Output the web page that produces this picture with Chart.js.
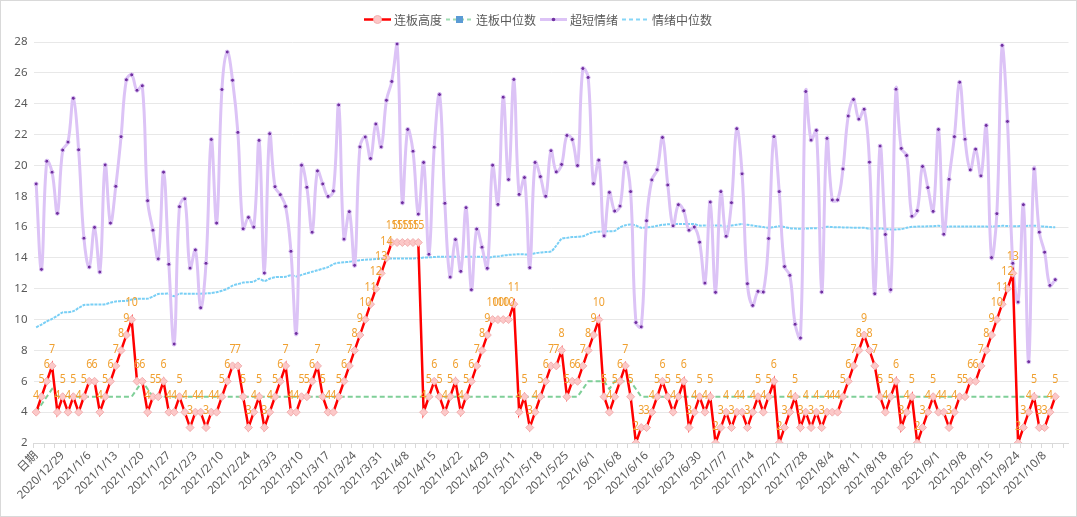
<!DOCTYPE html>
<html>
<head>
<meta charset="utf-8">
<script src="https://cdn.jsdelivr.net/npm/chart.js@4"></script>
<style>
html,body{margin:0;padding:0;background:#fff;}
#wrap{width:1077px;height:517px;position:relative;}
</style>
</head>
<body>
<div id="wrap"><canvas id="c" width="1077" height="517"></canvas></div>
<script>
const categories = ['日期','2020/12/23','2020/12/24','2020/12/25','2020/12/28','2020/12/29','2020/12/30','2020/12/31','2021/1/4','2021/1/5',
'2021/1/6','2021/1/7','2021/1/8','2021/1/11','2021/1/12','2021/1/13','2021/1/14','2021/1/15','2021/1/18','2021/1/19',
'2021/1/20','2021/1/21','2021/1/22','2021/1/25','2021/1/26','2021/1/27','2021/1/28','2021/1/29','2021/2/1','2021/2/2',
'2021/2/3','2021/2/4','2021/2/5','2021/2/8','2021/2/9','2021/2/10','2021/2/18','2021/2/19','2021/2/22','2021/2/23',
'2021/2/24','2021/2/25','2021/2/26','2021/3/1','2021/3/2','2021/3/3','2021/3/4','2021/3/5','2021/3/8','2021/3/9',
'2021/3/10','2021/3/11','2021/3/12','2021/3/15','2021/3/16','2021/3/17','2021/3/18','2021/3/19','2021/3/22','2021/3/23',
'2021/3/24','2021/3/25','2021/3/26','2021/3/29','2021/3/30','2021/3/31','2021/4/1','2021/4/2','2021/4/6','2021/4/7',
'2021/4/8','2021/4/9','2021/4/12','2021/4/13','2021/4/14','2021/4/15','2021/4/16','2021/4/19','2021/4/20','2021/4/21',
'2021/4/22','2021/4/23','2021/4/26','2021/4/27','2021/4/28','2021/4/29','2021/4/30','2021/5/6','2021/5/7','2021/5/10',
'2021/5/11','2021/5/12','2021/5/13','2021/5/14','2021/5/17','2021/5/18','2021/5/19','2021/5/20','2021/5/21','2021/5/24',
'2021/5/25','2021/5/26','2021/5/27','2021/5/28','2021/5/31','2021/6/1','2021/6/2','2021/6/3','2021/6/4','2021/6/7',
'2021/6/8','2021/6/9','2021/6/10','2021/6/11','2021/6/15','2021/6/16','2021/6/17','2021/6/18','2021/6/21','2021/6/22',
'2021/6/23','2021/6/24','2021/6/25','2021/6/28','2021/6/29','2021/6/30','2021/7/1','2021/7/2','2021/7/5','2021/7/6',
'2021/7/7','2021/7/8','2021/7/9','2021/7/12','2021/7/13','2021/7/14','2021/7/15','2021/7/16','2021/7/19','2021/7/20',
'2021/7/21','2021/7/22','2021/7/23','2021/7/26','2021/7/27','2021/7/28','2021/7/29','2021/7/30','2021/8/2','2021/8/3',
'2021/8/4','2021/8/5','2021/8/6','2021/8/9','2021/8/10','2021/8/11','2021/8/12','2021/8/13','2021/8/16','2021/8/17',
'2021/8/18','2021/8/19','2021/8/20','2021/8/23','2021/8/24','2021/8/25','2021/8/26','2021/8/27','2021/8/30','2021/8/31',
'2021/9/1','2021/9/2','2021/9/3','2021/9/6','2021/9/7','2021/9/8','2021/9/9','2021/9/10','2021/9/13','2021/9/14',
'2021/9/15','2021/9/16','2021/9/17','2021/9/22','2021/9/23','2021/9/24','2021/9/27','2021/9/28','2021/9/29','2021/9/30',
'2021/10/8','2021/10/11','2021/10/12','',''];

// 连板高度
const chainHeight = [
4,5,6,7,4,5,4,5,4,5,
6,6,4,5,6,7,8,9,10,6,
6,4,5,5,6,4,4,5,4,3,
4,4,3,4,4,5,6,7,7,5,
3,4,5,3,4,5,6,7,4,4,
5,5,6,7,5,4,4,5,6,7,
8,9,10,11,12,13,14,15,15,15,
15,15,15,4,5,6,5,4,5,6,
4,5,6,7,8,9,10,10,10,10,
11,4,5,3,4,5,6,7,7,8,
5,6,6,7,8,9,10,5,4,5,
6,7,5,2,3,3,4,5,6,5,
4,5,6,3,4,5,4,5,2,3,
4,3,4,4,3,4,5,4,5,6,
2,3,4,5,3,4,3,4,3,4,
4,4,5,6,7,8,9,8,7,5,
4,5,6,3,4,5,2,3,4,5,
4,4,3,4,5,5,6,6,7,8,
9,10,11,12,13,2,3,4,5,3,
3,4,5];

// 连板中位数
const chainMedian = [
4,4.5,5,5.5,5,5,5,5,5,5,
5,5,5,5,5,5,5,5,5,5.5,
6,5.5,5,5,5,5,5,5,5,5,
5,5,5,5,5,5,5,5,5,5,
5,5,5,5,5,5,5,5,5,5,
5,5,5,5,5,5,5,5,5,5,
5,5,5,5,5,5,5,5,5,5,
5,5,5,5,5,5,5,5,5,5,
5,5,5,5,5,5,5,5,5,5,
5,5,5,5,5,5,5,5,5,5,
5,5,5,5.5,6,6,6,6,5.5,6,
6,6,6,5.5,5,5,5,5,5,5,
5,5,5,5,5,5,5,5,5,5,
5,5,5,5,5,5,5,5,5,5,
5,5,5,5,5,5,5,5,5,5,
5,5,5,5,5,5,5,5,5,5,
5,5,5,5,5,5,5,5,5,5,
5,5,5,5,5,5,5,5,5,5,
5,5,5,5,5,5,5,5,5,5,
5,5,5];

// 超短情绪
const emotion = [
18.8,13.26,20.27,19.56,16.89,20.99,21.51,24.35,21.01,15.28,
13.41,15.98,13.09,20.03,16.26,18.64,21.86,25.55,25.87,24.87,
25.16,17.71,15.8,13.94,19.56,13.59,8.42,17.32,17.83,13.34,
14.52,10.77,13.65,21.68,16.26,24.92,27.35,25.52,22.14,15.89,
16.63,16.0,21.62,13.02,22.05,18.62,18.1,17.34,14.43,9.1,
20.01,18.58,15.67,19.64,18.8,17.99,18.34,23.92,15.22,17.0,
13.52,21.2,21.84,20.45,22.68,21.2,24.22,25.44,27.87,17.58,
22.33,20.92,16.84,20.19,14.24,21.18,24.59,17.54,12.76,15.19,
13.13,17.26,11.94,15.87,14.7,13.33,20.01,17.47,24.42,19.08,
25.57,18.12,19.21,13.37,20.19,19.27,18.0,20.95,19.58,20.06,
21.94,21.68,19.99,26.28,25.7,18.82,20.34,15.43,18.25,17.04,
17.36,20.19,18.3,9.81,9.53,16.41,19.06,19.71,21.81,18.73,
16.08,17.45,17.06,15.8,16.0,15.02,12.37,17.62,11.77,18.3,
15.41,17.58,22.38,19.45,12.33,10.92,11.83,11.79,15.26,21.86,
18.3,13.44,12.87,9.7,8.81,24.79,21.64,22.27,11.79,21.75,
17.76,17.76,19.77,23.2,24.27,23.0,23.64,20.21,11.68,21.25,
15.52,11.94,24.94,21.1,20.64,16.71,17.06,19.93,18.56,17.02,
22.33,15.54,19.1,21.86,25.39,21.7,19.71,21.05,19.32,22.59,
14.02,16.87,27.78,22.85,13.65,11.14,17.45,7.27,19.77,15.67,
14.37,12.22,12.59];

// 情绪中位数
const emotionMedian = [
9.5,9.68,9.88,10.05,10.25,10.47,10.48,10.55,10.75,10.95,
10.97,10.98,10.98,11.0,11.1,11.18,11.2,11.22,11.3,11.35,
11.35,11.36,11.5,11.66,11.68,11.68,11.52,11.68,11.68,11.68,
11.68,11.68,11.7,11.72,11.78,11.87,12.0,12.2,12.3,12.4,
12.43,12.47,12.65,12.5,12.65,12.75,12.76,12.78,12.88,12.8,
12.9,13.0,13.1,13.2,13.3,13.4,13.6,13.68,13.72,13.75,
13.8,13.85,13.88,13.9,13.93,13.95,13.96,13.97,13.97,13.97,
13.97,13.97,13.98,14.02,14.04,14.06,14.08,14.08,14.08,14.08,
14.08,14.08,14.08,14.08,14.08,14.02,14.07,14.1,14.15,14.2,
14.22,14.24,14.23,14.22,14.3,14.35,14.38,14.42,14.8,15.24,
15.3,15.35,15.37,15.4,15.55,15.67,15.7,15.72,15.73,15.75,
15.98,16.12,16.17,16.1,15.95,15.98,16.02,16.08,16.15,16.18,
16.2,16.2,16.2,16.2,16.19,16.1,16.1,16.1,16.1,16.1,
16.04,16.1,16.15,16.2,16.15,16.1,16.05,16.0,15.95,16.0,
16.06,16.0,15.93,15.9,15.89,15.9,15.92,15.93,15.93,16.02,
16.0,15.99,15.98,15.97,15.96,15.96,15.95,15.89,15.9,15.91,
15.88,15.85,15.85,15.87,15.95,16.02,16.03,16.04,16.05,16.06,
16.08,16.03,16.03,16.03,16.03,16.03,16.03,16.03,16.03,16.03,
16.03,16.05,16.08,16.07,16.06,16.06,16.07,16.08,16.09,16.06,
16.03,16.0,15.99];

const yTickValues = [2,4,6,8,10,12,14,16,18,20,22,24,26,28];
const seriesNames = ['连板高度','连板中位数','超短情绪','情绪中位数'];
const xLabelStep = 5;

const FONT = '"Noto Sans", "Noto Sans CJK SC", sans-serif';
const CJK = '"Noto Sans CJK SC", "Noto Sans", sans-serif';

const bgPlugin = {
  id: 'bg',
  beforeDraw(chart) {
    const c = chart.ctx;
    c.save();
    c.fillStyle = '#ffffff';
    c.fillRect(0, 0, chart.width, chart.height);
    c.restore();
  }
};

const valueLabels = {
  id: 'valueLabels',
  afterDatasetsDraw(chart) {
    const c = chart.ctx;
    const meta = chart.getDatasetMeta(0);
    c.save();
    c.fillStyle = '#f0a030';
    c.font = '13px ' + FONT;
    c.textAlign = 'center';
    c.textBaseline = 'middle';
    meta.data.forEach((pt, i) => {
      const v = chainHeight[i];
      if (v == null || isNaN(pt.y)) return;
      c.save();
      c.translate(pt.x, pt.y - 17);
      c.scale(0.82, 1);
      c.fillText(String(v), 0, 0);
      c.restore();
    });
    c.restore();
  }
};

const customLegend = {
  id: 'customLegend',
  afterDraw(chart) {
    const c = chart.ctx;
    c.save();
    c.font = '12px ' + CJK;
    const symW = 27, gapText = 3, gapItem = 4;
    const widths = seriesNames.map(n => c.measureText(n).width);
    const total = 4 * symW + 4 * gapText + widths.reduce((a, b) => a + b, 0) + 3 * gapItem;
    let x = Math.round((chart.width - total) / 2);
    const y = 19.5;
    seriesNames.forEach((name, i) => {
      const cx = x + symW / 2;
      c.save();
      if (i === 0) {
        c.strokeStyle = '#ff0000'; c.lineWidth = 2.5;
        c.beginPath(); c.moveTo(x, y); c.lineTo(x + symW, y); c.stroke();
        c.fillStyle = '#fcc8c8'; c.strokeStyle = '#f2b0b0'; c.lineWidth = 1;
        c.beginPath(); c.arc(cx, y, 4, 0, Math.PI * 2); c.fill(); c.stroke();
      } else if (i === 1) {
        c.strokeStyle = '#9ddcb2'; c.lineWidth = 2; c.setLineDash([4, 3]);
        c.beginPath(); c.moveTo(x, y); c.lineTo(x + symW, y); c.stroke();
        c.setLineDash([]);
        c.fillStyle = '#5b9bd5';
        c.fillRect(cx - 3.5, y - 3.5, 7, 7);
      } else if (i === 2) {
        c.strokeStyle = '#dcc3f6'; c.lineWidth = 3;
        c.beginPath(); c.moveTo(x, y); c.lineTo(x + symW, y); c.stroke();
        c.fillStyle = '#7030a0';
        c.beginPath(); c.arc(cx, y, 1.8, 0, Math.PI * 2); c.fill();
      } else {
        c.strokeStyle = '#86d6f7'; c.lineWidth = 2; c.setLineDash([4, 3]);
        c.beginPath(); c.moveTo(x, y); c.lineTo(x + symW, y); c.stroke();
      }
      c.restore();
      x += symW + gapText;
      c.fillStyle = '#595959';
      c.textAlign = 'left';
      c.textBaseline = 'middle';
      c.fillText(name, x, y + 0.5);
      x += widths[i] + gapItem;
    });
    // outer frame
    c.strokeStyle = '#d9d9d9';
    c.lineWidth = 1;
    c.strokeRect(0.5, 0.5, chart.width - 1, chart.height - 1);
    c.restore();
  }
};

new Chart(document.getElementById('c'), {
  type: 'line',
  data: {
    labels: categories,
    datasets: [
      {
        label: seriesNames[0],
        data: chainHeight,
        borderColor: '#ff0000',
        borderWidth: 2.5,
        tension: 0,
        pointStyle: 'rectRot',
        pointRadius: 4,
        pointBackgroundColor: '#fcc8c8',
        pointBorderColor: '#f2b0b0',
        pointBorderWidth: 1
      },
      {
        label: seriesNames[1],
        data: chainMedian,
        borderColor: '#7fcf98',
        borderWidth: 2,
        borderDash: [5, 3],
        tension: 0,
        pointRadius: 0
      },
      {
        label: seriesNames[2],
        data: emotion,
        borderColor: '#dcc3f6',
        borderWidth: 3,
        tension: 0.4,
        pointRadius: 2,
        pointBackgroundColor: '#7030a0',
        pointBorderColor: '#e2ccf8',
        pointBorderWidth: 1
      },
      {
        label: seriesNames[3],
        data: emotionMedian,
        borderColor: '#79cff5',
        borderWidth: 2,
        borderDash: [3, 1],
        tension: 0.3,
        pointRadius: 0
      }
    ]
  },
  options: {
    responsive: false,
    animation: false,
    devicePixelRatio: 1,
    events: [],
    layout: { padding: { top: 42, right: 8.5, bottom: 0, left: 0 } },
    plugins: {
      legend: { display: false },
      tooltip: { enabled: false }
    },
    scales: {
      x: {
        type: 'category',
        offset: true,
        grid: {
          offset: true,
          drawOnChartArea: false,
          drawTicks: true,
          tickLength: 5,
          color: (ctx) => (ctx.index % 2 === 0 ? '#d9d9d9' : 'rgba(0,0,0,0)')
        },
        border: { display: true, color: '#d9d9d9', width: 1 },
        ticks: {
          autoSkip: false,
          maxRotation: 45,
          minRotation: 45,
          padding: 1,
          color: '#595959',
          font: { size: 11.5, family: FONT },
          callback: function (value, index) {
            return index % xLabelStep === 0 ? categories[index] : '';
          }
        },
        afterFit: (scale) => { scale.height = 74; }
      },
      y: {
        min: yTickValues[0],
        max: yTickValues[yTickValues.length - 1],
        afterBuildTicks: (scale) => { scale.ticks = yTickValues.map(v => ({ value: v })); },
        grid: { color: '#e8e8e8', drawTicks: false, lineWidth: 1 },
        border: { display: false },
        ticks: {
          padding: 6,
          color: '#595959',
          font: { size: 11.5, family: FONT }
        },
        afterFit: (scale) => { scale.width = 33.5; }
      }
    }
  },
  plugins: [bgPlugin, valueLabels, customLegend]
});
</script>
</body>
</html>
